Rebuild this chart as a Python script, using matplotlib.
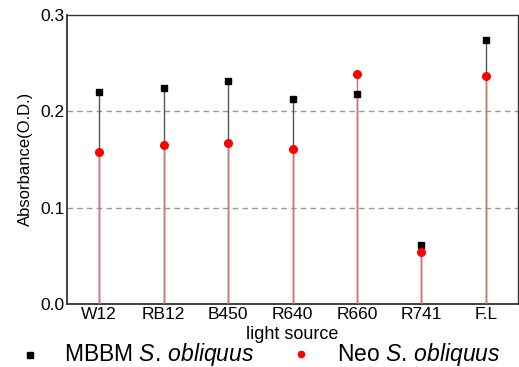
import matplotlib
matplotlib.use("Agg")
import matplotlib.pyplot as plt
from matplotlib.lines import Line2D

plt.rcParams['font.family'] = ['Liberation Sans', 'DejaVu Sans']
plt.rcParams['mathtext.fontset'] = 'custom'
plt.rcParams['mathtext.rm'] = 'Liberation Sans'
plt.rcParams['mathtext.it'] = 'Liberation Sans:italic'

categories = ["W12", "RB12", "B450", "R640", "R660", "R741", "F.L"]
mbbm = [0.220, 0.224, 0.231, 0.213, 0.218, 0.061, 0.274]
neo = [0.158, 0.165, 0.167, 0.161, 0.238, 0.054, 0.236]
series_labels = ["MBBM $\\it{S.\\,obliquus}$", "Neo $\\it{S.\\,obliquus}$"]

W, H = 519, 367
fig = plt.figure(figsize=(W / 100, H / 100), dpi=100)
ax = fig.add_axes([67 / W, 1 - 304 / H, 451 / W, (304 - 14.7) / H])

x = list(range(len(categories)))
ax.vlines(x, 0, mbbm, color='#555555', lw=1.0, zorder=2)
ax.vlines(x, 0, neo, color='#d87070', lw=1.0, zorder=3)
ax.plot(x, mbbm, 's', color='black', ms=4.8, zorder=4)
ax.plot(x, neo, 'o', color='red', ms=5.5, zorder=5)

for yv in (0.1, 0.2):
    ax.axhline(yv, color='#999999', lw=1.0, ls=(0, (4, 3)), zorder=1)

ax.set_xlim(-0.5, len(categories) - 0.5)
ax.set_ylim(0, 0.3)
ax.set_yticks([0.0, 0.1, 0.2, 0.3])
ax.set_yticklabels(["0.0", "0.1", "0.2", "0.3"])
ax.set_xticks(x)
ax.set_xticklabels(categories)
ax.tick_params(axis='both', length=0, labelsize=12.5, pad=2)
for s in ax.spines.values():
    s.set_color('#333333')
    s.set_linewidth(1.0)
ax.spines['left'].set_linewidth(1.3)
ax.spines['bottom'].set_linewidth(1.3)
ax.set_xlabel("light source", fontsize=13, labelpad=3)
ax.set_ylabel("Absorbance(O.D.)", fontsize=12, labelpad=5)

# legend (manual placement)
leg_y = 1 - 355 / H
fig.add_artist(Line2D([30 / W], [leg_y], ls='none', marker='s', color='black',
                      ms=4, transform=fig.transFigure))
fig.add_artist(Line2D([301 / W], [leg_y + 1 / H], ls='none', marker='o', color='red',
                      ms=4.5, transform=fig.transFigure))
fig.text(64 / W, leg_y, series_labels[0], fontsize=16.5, va='center', ha='left')
fig.text(337 / W, leg_y, series_labels[1], fontsize=16.5, va='center', ha='left')

fig.savefig("out.png", dpi=100)
